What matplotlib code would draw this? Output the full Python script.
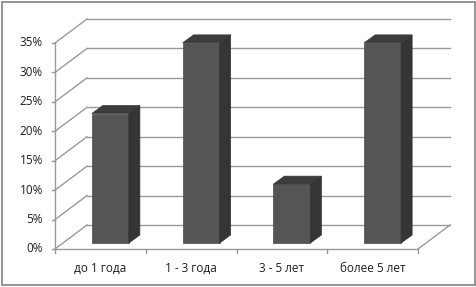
import matplotlib
matplotlib.use('Agg')
import matplotlib.pyplot as plt
from matplotlib.patches import Polygon, Rectangle

# ----- Data -----
categories = ['до 1 года', '1 - 3 года', '3 - 5 лет', 'более 5 лет']
values = [22, 34, 10, 34]
yticks = [0, 5, 10, 15, 20, 25, 30, 35]
ytick_labels = ['0%', '5%', '10%', '15%', '20%', '25%', '30%', '35%']

plt.rcParams['font.family'] = ['Open Sans', 'DejaVu Sans']

fig = plt.figure(figsize=(4.76, 2.87), dpi=100)
ax = fig.add_axes([0, 0, 1, 1])

# pixel -> data mapping (front plane)
PX_CAT = 90.75
PX_PCT = 5.886
ax.set_xlim(-0.5 - 55 / PX_CAT, -0.5 + 421 / PX_CAT)
ax.set_ylim((249 - 287) / PX_PCT, 249 / PX_PCT)
ax.axis('off')

# depth of the 3D box
DX = 32 / PX_CAT
DY = 24 / PX_PCT
xl, xr = -0.5, len(categories) - 0.5
grid_c = '#999999'
txt_c = '#1e1e1e'

# back wall and left wall gridlines
for v in yticks:
    ax.plot([xl + DX, xr + DX], [v + DY, v + DY], color=grid_c, lw=1.0, zorder=1)
    ax.plot([xl, xl + DX], [v, v + DY], color=grid_c, lw=1.0, zorder=1)
# floor right edge
ax.plot([xr, xr + DX], [0, DY], color=grid_c, lw=1.0, zorder=1)

# front axes
ax.plot([xl, xl], [0, yticks[-1]], color=grid_c, lw=1.0, zorder=2)
ax.plot([xl, xr], [0, 0], color=grid_c, lw=1.0, zorder=2)
for v, lab in zip(yticks, ytick_labels):
    ax.plot([xl - 3 / PX_CAT, xl], [v, v], color=grid_c, lw=1.0, zorder=2)
    ax.text(xl - 12 / PX_CAT, v, lab, ha='right', va='center', fontsize=8.5, color=txt_c)
for k in range(len(categories) + 1):
    ax.plot([xl + k, xl + k], [0, -4 / PX_PCT], color=grid_c, lw=1.0, zorder=2)
for i, lab in enumerate(categories):
    ax.text(i, -19 / PX_PCT, lab, ha='center', va='center', fontsize=8.5, color=txt_c)

# bars
BW = 37 / PX_CAT
BOX = 10 / PX_CAT
BOY = 6 / PX_PCT
BDX = 11 / PX_CAT
BDY = 8 / PX_PCT
for i, v in enumerate(values):
    x0 = i + BOX - BW / 2
    x1 = x0 + BW
    y0 = BOY
    y1 = BOY + v
    front = Polygon([(x0, y0), (x1, y0), (x1, y1), (x0, y1)], closed=True,
                    facecolor='#555555', edgecolor='#4a4a4a', lw=0.5, zorder=3)
    side = Polygon([(x1, y0), (x1 + BDX, y0 + BDY), (x1 + BDX, y1 + BDY), (x1, y1)],
                   closed=True, facecolor='#353535', edgecolor='#303030', lw=0.5, zorder=3)
    top = Polygon([(x0, y1), (x1, y1), (x1 + BDX, y1 + BDY), (x0 + BDX, y1 + BDY)],
                  closed=True, facecolor='#3c3c3c', edgecolor='#383838', lw=0.5, zorder=3)
    for p in (front, side, top):
        ax.add_patch(p)

# outer border
fig.patches.append(Rectangle((1.5 / 476, 2.5 / 287), 473 / 476, 283 / 287,
                             transform=fig.transFigure, fill=False,
                             edgecolor='#8c8c8c', lw=1.3))

fig.savefig('out.png', dpi=100)
